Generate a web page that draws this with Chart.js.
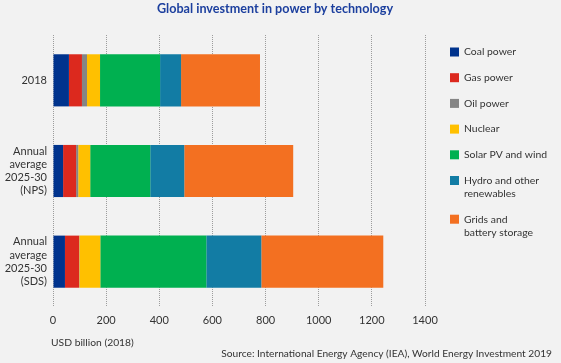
<!DOCTYPE html>
<html>
<head>
<meta charset="utf-8">
<script src="https://cdn.jsdelivr.net/npm/chart.js@4.4.0/dist/chart.umd.min.js"></script>
<style>
  html, body { margin: 0; padding: 0; background: #f2f2f2; }
  #wrap { width: 561px; height: 363px; position: relative; }
</style>
</head>
<body>
<div id="wrap"><canvas id="powerChart"></canvas></div>
<script>
// categories (y axis)
const categories = [
    "2018",
    ["Annual", "average", "2025-30", "(NPS)"],
    ["Annual", "average", "2025-30", "(SDS)"]
];

// series names (legend lines)
const seriesNames = [
    ["Coal power"],
    ["Gas power"],
    ["Oil power"],
    ["Nuclear"],
    ["Solar PV and wind"],
    ["Hydro and other", "renewables"],
    ["Grids and", "battery storage"]
];

// USD billion (2018)
const coalPower  = [60, 38, 45];
const gasPower   = [49, 49, 53];
const oilPower   = [19, 8, 1];
const nuclear    = [49, 45, 79];
const solarWind  = [226, 226, 399];
const hydroOther = [79, 128, 207];
const gridsStore = [297, 410, 459];

const xTicks = [0, 200, 400, 600, 800, 1000, 1200, 1400];

const colors = ["#00338d", "#dc291e", "#858585", "#ffc000", "#00b050", "#127ca4", "#f37021"];
const seriesData = [coalPower, gasPower, oilPower, nuclear, solarWind, hydroOther, gridsStore];

const fontFamily = "Lato, 'Open Sans', sans-serif";

const extras = {
    id: "extras",
    afterDraw(chart) {
        const ctx = chart.ctx;
        ctx.save();
        // title
        ctx.fillStyle = "#1c3f9e";
        ctx.font = "bold 12.6px " + fontFamily;
        ctx.textAlign = "center";
        ctx.textBaseline = "middle";
        ctx.fillText("Global investment in power by technology", 275, 9);

        // axis title + source
        ctx.fillStyle = "#333333";
        ctx.font = "10.3px " + fontFamily;
        ctx.textAlign = "left";
        ctx.fillText("USD billion (2018)", 51, 343);
        ctx.font = "10.2px " + fontFamily;
        ctx.textAlign = "right";
        ctx.fillText("Source: International Energy Agency (IEA), World Energy Investment 2019", 552, 354);

        // legend
        ctx.font = "10.4px " + fontFamily;
        ctx.textAlign = "left";
        let y = 52;
        chart.data.datasets.forEach((ds, i) => {
            ctx.fillStyle = ds.backgroundColor;
            ctx.fillRect(450, y - 4.5, 9, 9);
            ctx.fillStyle = "#333333";
            seriesNames[i].forEach((line, j) => {
                ctx.fillText(line, 464, y + j * 13);
            });
            y += 25.7 + (seriesNames[i].length - 1) * 13;
        });
        ctx.restore();
    }
};

new Chart(
    document.getElementById("powerChart"),
    {
        type: "bar",

        data: {
            labels: categories,
            datasets: seriesData.map((d, i) => ({
                label: seriesNames[i].join(" "),
                data: d,
                backgroundColor: colors[i],
                borderWidth: 0,
                barPercentage: 0.575,
                categoryPercentage: 1
            }))
        },

        options: {
            indexAxis: "y",
            responsive: true,
            maintainAspectRatio: false,
            animation: false,
            layout: {
                padding: { top: 35, right: 136, left: 0, bottom: 0 }
            },
            plugins: {
                legend: { display: false },
                tooltip: { enabled: false }
            },
            scales: {
                x: {
                    stacked: true,
                    min: 0,
                    max: 1400,
                    afterBuildTicks: (scale) => {
                        scale.ticks = xTicks.map(v => ({ value: v }));
                    },
                    afterFit: (scale) => { scale.height = 56; },
                    border: { display: false, dash: [1, 1] },
                    grid: {
                        color: "#9c9c9c",
                        lineWidth: 1,
                        borderDash: [1, 1],
                        drawTicks: false
                    },
                    ticks: {
                        padding: 7,
                        color: "#333333",
                        font: { family: fontFamily, size: 11 },
                        callback: (v) => String(v)
                    }
                },
                y: {
                    stacked: true,
                    afterFit: (scale) => { scale.width = 53; },
                    border: { display: false },
                    grid: { display: false, drawTicks: false },
                    ticks: {
                        padding: 6,
                        color: "#333333",
                        font: { family: fontFamily, size: 11, lineHeight: 1.2 }
                    }
                }
            }
        },

        plugins: [extras]
    }
);
</script>
</body>
</html>
